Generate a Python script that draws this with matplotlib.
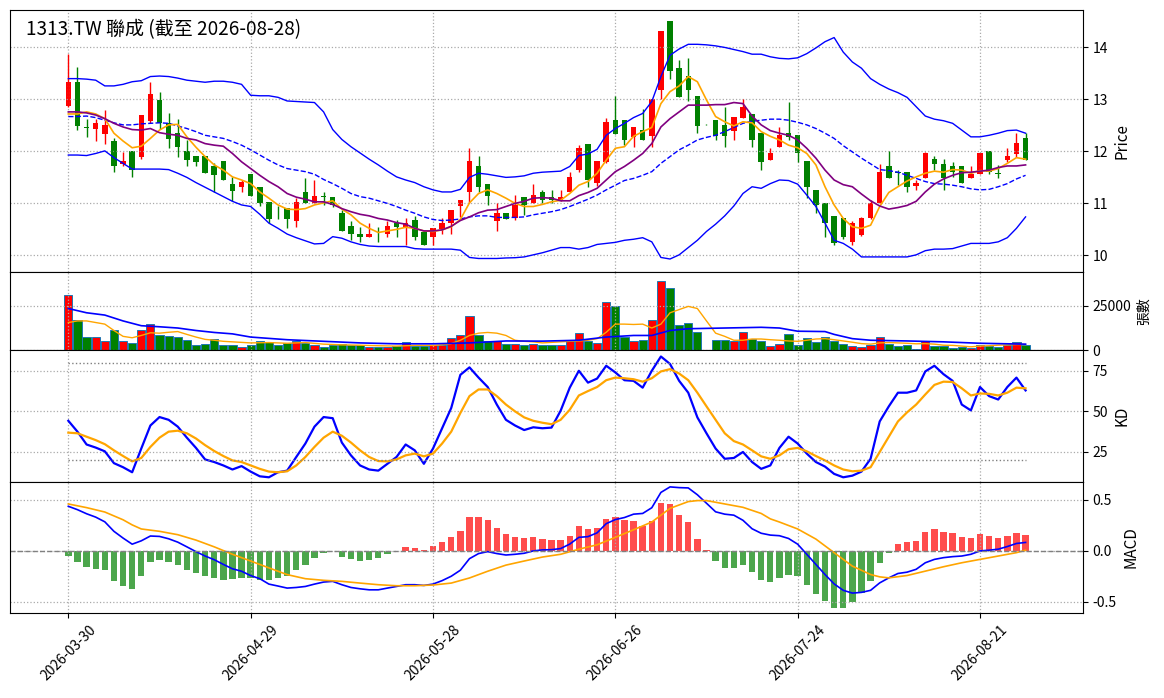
import matplotlib
matplotlib.use('Agg')
import matplotlib.pyplot as plt
import numpy as np
import pandas as pd

plt.rcParams['font.family'] = ['Noto Sans CJK TC', 'DejaVu Sans']
plt.rcParams['axes.unicode_minus'] = False

title = '1313.TW 聯成 (截至 2026-08-28)'
holidays = ['2026-04-03', '2026-04-06', '2026-05-01', '2026-06-19']
dates = pd.bdate_range('2026-03-30', '2026-08-28').drop(pd.to_datetime(holidays))

# OHLC read from the candles
opens = [12.88, 13.34, 12.46, 12.43, 12.33, 12.20, 11.75, 12.01, 11.90, 12.58,
         12.99, 12.54, 12.35, 12.01, 11.92, 11.92, 11.72, 11.81, 11.37, 11.31,
         11.56, 11.32, 11.02, 10.88, 10.92, 10.67, 11.21, 11.01, 11.15, 11.12,
         10.81, 10.56, 10.42, 10.36, 10.45, 10.42, 10.62, 10.55, 10.68, 10.44,
         10.36, 10.51, 10.62, 10.95, 11.21, 11.72, 11.37, 10.67, 10.81, 10.71,
         11.12, 11.01, 11.21, 11.12, 11.06, 11.21, 11.64, 12.15, 11.40, 11.80,
         12.60, 12.60, 12.28, 12.41, 12.29, 13.18, 14.51, 13.60, 13.45, 13.06,
         12.51, 12.60, 12.51, 12.40, 12.65, 12.71, 12.35, 11.83, 12.09, 12.35,
         12.31, 11.81, 11.26, 11.01, 10.76, 10.71, 10.25, 10.40, 10.71, 11.00,
         11.72, 11.60, 11.60, 11.34, 11.49, 11.85, 11.75, 11.72, 11.72, 11.49,
         11.56, 12.01, 11.58, 11.83, 11.95, 12.26]
highs = [13.88, 13.63, 12.63, 12.63, 12.79, 12.25, 11.99, 12.01, 12.70, 13.34,
         13.15, 12.74, 12.63, 12.22, 11.92, 11.92, 11.77, 11.81, 11.50, 11.45,
         11.56, 11.32, 11.02, 10.95, 10.92, 11.11, 11.49, 11.45, 11.21, 11.12,
         10.87, 10.67, 10.55, 10.62, 10.55, 10.67, 10.68, 10.71, 10.76, 10.47,
         10.52, 10.71, 10.87, 11.06, 12.07, 11.91, 11.37, 11.01, 10.81, 11.16,
         11.12, 11.37, 11.26, 11.26, 11.26, 11.60, 12.12, 12.15, 11.81, 12.65,
         13.06, 12.60, 12.46, 12.81, 13.00, 14.31, 14.51, 13.76, 13.80, 13.06,
         12.52, 12.60, 12.85, 12.66, 13.00, 12.71, 12.35, 12.07, 12.46, 12.95,
         12.31, 11.81, 11.26, 11.01, 10.76, 10.71, 10.67, 10.74, 11.06, 11.75,
         12.01, 11.65, 11.60, 11.45, 11.99, 11.91, 11.85, 11.80, 11.72, 11.72,
         11.96, 12.01, 11.74, 12.06, 12.35, 12.35]
lows = [12.86, 12.41, 12.28, 12.20, 12.15, 11.60, 11.71, 11.50, 11.85, 12.54,
        12.44, 12.06, 11.90, 11.71, 11.71, 11.59, 11.21, 11.45, 11.05, 11.21,
        11.15, 10.95, 10.62, 10.69, 10.52, 10.55, 11.00, 11.00, 10.97, 10.94,
        10.46, 10.29, 10.26, 10.36, 10.26, 10.36, 10.36, 10.20, 10.29, 10.20,
        10.20, 10.42, 10.42, 10.74, 11.01, 11.21, 10.97, 10.47, 10.69, 10.68,
        10.78, 11.00, 11.00, 11.00, 11.04, 11.21, 11.61, 11.32, 11.33, 11.77,
        12.33, 12.12, 12.09, 12.21, 12.09, 13.00, 13.40, 13.05, 12.96, 12.35,
        12.50, 12.22, 12.09, 12.22, 12.65, 12.09, 11.65, 11.83, 12.09, 12.22,
        11.80, 11.10, 10.81, 10.36, 10.20, 10.31, 10.20, 10.37, 10.69, 11.00,
        11.49, 11.35, 11.21, 11.26, 11.49, 11.65, 11.26, 11.51, 11.40, 11.49,
        11.56, 11.56, 11.49, 11.80, 11.90, 11.83]
closes = [13.34, 12.49, 12.45, 12.54, 12.51, 11.71, 11.81, 11.65, 12.70, 13.10,
          12.54, 12.24, 12.09, 11.83, 11.80, 11.59, 11.55, 11.45, 11.24, 11.41,
          11.15, 11.00, 10.70, 10.87, 10.70, 11.02, 11.01, 11.15, 11.12, 10.97,
          10.46, 10.41, 10.36, 10.42, 10.44, 10.56, 10.55, 10.62, 10.36, 10.20,
          10.52, 10.62, 10.87, 11.06, 11.81, 11.31, 11.15, 10.81, 10.69, 10.97,
          10.97, 11.16, 11.06, 11.06, 11.12, 11.51, 12.07, 11.45, 11.81, 12.56,
          12.33, 12.21, 12.46, 12.21, 13.00, 14.31, 13.55, 13.05, 13.18, 12.49,
          12.50, 12.29, 12.29, 12.66, 12.86, 12.21, 11.80, 11.96, 12.31, 12.28,
          11.96, 11.31, 10.97, 10.62, 10.23, 10.36, 10.62, 10.71, 11.01, 11.61,
          11.49, 11.58, 11.31, 11.40, 11.96, 11.75, 11.49, 11.60, 11.40, 11.56,
          11.96, 11.60, 11.57, 11.91, 12.17, 11.83]
volume = [31000, 16800, 7500, 7500, 4900, 11300, 4900, 4200, 11300, 14600,
          8600, 8000, 7500, 5800, 2600, 3600, 6400, 3100, 3100, 1800,
          2600, 5300, 4700, 2600, 4200, 4900, 4200, 2600, 1500, 2600,
          3600, 3100, 3100, 1800, 1500, 1500, 2200, 4400, 2000, 2000,
          2700, 3100, 6900, 8600, 19200, 8600, 5300, 5300, 3600, 3600,
          2600, 3300, 2600, 2600, 3100, 4900, 9700, 5100, 4000, 27000,
          25000, 7300, 5100, 5800, 17200, 38700, 35000, 14000, 15100, 10200,
          0, 5800, 5800, 4900, 10200, 6400, 5300, 2000, 3600, 9100,
          3100, 6900, 4400, 7500, 4900, 3600, 2000, 1500, 3100, 7500,
          3600, 2000, 2600, 700, 4900, 2000, 2000, 1100, 1500, 1100,
          2700, 2000, 1500, 2700, 4700, 2900]

# price overlays
bb_upper = [13.40, 13.40, 13.39, 13.37, 13.26, 13.26, 13.29, 13.34, 13.36, 13.44,
            13.45, 13.44, 13.41, 13.37, 13.35, 13.33, 13.35, 13.35, 13.33, 13.29,
            13.08, 13.07, 13.07, 13.04, 12.97, 12.96, 12.95, 12.94, 12.76, 12.42,
            12.23, 12.09, 11.97, 11.85, 11.74, 11.62, 11.51, 11.45, 11.40, 11.32,
            11.26, 11.22, 11.22, 11.27, 11.50, 11.58, 11.56, 11.53, 11.50, 11.51,
            11.53, 11.58, 11.60, 11.61, 11.62, 11.71, 11.92, 11.95, 12.04, 12.31,
            12.44, 12.54, 12.65, 12.73, 12.96, 13.44, 13.85, 13.97, 14.06, 14.06,
            14.05, 14.03, 14.00, 13.96, 13.92, 13.87, 13.87, 13.82, 13.79, 13.78,
            13.80, 13.88, 13.99, 14.11, 14.19, 13.91, 13.72, 13.60, 13.40, 13.29,
            13.20, 13.13, 13.04, 12.86, 12.68, 12.62, 12.59, 12.54, 12.41, 12.28,
            12.28, 12.31, 12.35, 12.40, 12.41, 12.35]
bb_mid = [12.67, 12.67, 12.68, 12.65, 12.60, 12.55, 12.51, 12.51, 12.53, 12.54,
          12.55, 12.54, 12.49, 12.44, 12.38, 12.31, 12.28, 12.25, 12.19, 12.12,
          12.03, 11.93, 11.83, 11.74, 11.67, 11.64, 11.61, 11.56, 11.46, 11.38,
          11.29, 11.19, 11.13, 11.10, 11.05, 11.00, 10.94, 10.87, 10.81, 10.74,
          10.69, 10.67, 10.68, 10.70, 10.74, 10.76, 10.76, 10.73, 10.73, 10.73,
          10.74, 10.78, 10.81, 10.84, 10.88, 10.94, 11.01, 11.08, 11.16, 11.26,
          11.35, 11.44, 11.48, 11.54, 11.61, 11.77, 11.90, 12.03, 12.12, 12.22,
          12.27, 12.31, 12.38, 12.46, 12.54, 12.58, 12.60, 12.62, 12.62, 12.60,
          12.56, 12.51, 12.44, 12.35, 12.25, 12.11, 11.99, 11.87, 11.76, 11.65,
          11.63, 11.60, 11.54, 11.48, 11.42, 11.38, 11.37, 11.35, 11.32, 11.28,
          11.26, 11.27, 11.32, 11.38, 11.47, 11.54]
bb_lower = [11.93, 11.93, 11.92, 11.96, 12.01, 11.88, 11.77, 11.66, 11.66, 11.66,
            11.66, 11.65, 11.58, 11.50, 11.40, 11.31, 11.22, 11.13, 11.04, 10.97,
            10.94, 10.79, 10.62, 10.52, 10.41, 10.34, 10.28, 10.22, 10.23, 10.36,
            10.33, 10.26, 10.21, 10.18, 10.17, 10.17, 10.17, 10.17, 10.13, 10.12,
            10.12, 10.12, 10.12, 10.10, 9.96, 9.94, 9.94, 9.94, 9.95, 9.955,
            9.97, 10.01, 10.05, 10.10, 10.15, 10.15, 10.12, 10.15, 10.21, 10.23,
            10.25, 10.29, 10.31, 10.34, 10.26, 9.96, 9.93, 10.01, 10.15, 10.29,
            10.46, 10.60, 10.76, 10.95, 11.19, 11.32, 11.29, 11.38, 11.45, 11.44,
            11.37, 11.16, 10.94, 10.62, 10.29, 10.23, 10.12, 9.97, 9.97, 9.97,
            9.97, 9.97, 9.97, 10.01, 10.09, 10.12, 10.12, 10.13, 10.18, 10.23,
            10.23, 10.23, 10.26, 10.34, 10.52, 10.74]
ma5 = [12.72, 12.72, 12.76, 12.72, 12.63, 12.35, 12.20, 12.07, 12.10, 12.25,
       12.41, 12.51, 12.52, 12.28, 12.08, 11.90, 11.74, 11.64, 11.51, 11.45,
       11.38, 11.22, 11.10, 10.97, 10.89, 10.88, 10.90, 10.97, 11.01, 11.05,
       10.89, 10.78, 10.62, 10.52, 10.44, 10.47, 10.50, 10.54, 10.52, 10.47,
       10.46, 10.49, 10.55, 10.69, 11.01, 11.19, 11.26, 11.19, 11.10, 11.00,
       10.94, 10.94, 10.98, 11.03, 11.06, 11.19, 11.35, 11.42, 11.58, 11.83,
       12.06, 12.09, 12.29, 12.38, 12.46, 12.92, 13.15, 13.26, 13.44, 13.34,
       12.99, 12.67, 12.57, 12.49, 12.57, 12.55, 12.38, 12.29, 12.22, 12.12,
       12.07, 11.96, 11.74, 11.32, 10.97, 10.71, 10.55, 10.52, 10.58, 10.94,
       11.21, 11.32, 11.43, 11.51, 11.58, 11.62, 11.60, 11.65, 11.64, 11.58,
       11.63, 11.62, 11.67, 11.77, 11.88, 11.85]
ma10 = [12.76, 12.76, 12.74, 12.70, 12.63, 12.54, 12.47, 12.42, 12.41, 12.44,
        12.36, 12.33, 12.31, 12.25, 12.22, 12.15, 12.12, 12.10, 11.96, 11.80,
        11.67, 11.54, 11.42, 11.32, 11.19, 11.12, 11.08, 11.03, 11.03, 10.98,
        10.90, 10.84, 10.79, 10.76, 10.71, 10.68, 10.63, 10.60, 10.52, 10.47,
        10.47, 10.49, 10.56, 10.67, 10.74, 10.82, 10.87, 10.88, 10.94, 11.00,
        11.04, 11.10, 11.11, 11.10, 11.05, 11.05, 11.15, 11.21, 11.29, 11.45,
        11.61, 11.71, 11.83, 11.96, 12.15, 12.47, 12.63, 12.76, 12.89, 12.89,
        12.89, 12.90, 12.90, 12.94, 12.92, 12.68, 12.51, 12.40, 12.35, 12.31,
        12.22, 12.06, 11.87, 11.64, 11.45, 11.36, 11.32, 11.18, 11.05, 10.95,
        10.89, 10.92, 10.96, 11.04, 11.22, 11.37, 11.47, 11.54, 11.59, 11.60,
        11.62, 11.64, 11.69, 11.72, 11.72, 11.74]

# volume averages (read where visible)
vma5_idx = [0, 1, 2, 3, 4, 5, 6, 7, 8, 9, 10, 11, 12, 13, 14, 15, 16, 17, 18, 20,
            22, 24, 26, 28, 30, 32, 34, 36, 38, 40, 41, 42, 43, 44, 45, 46, 47, 48, 49, 50,
            51, 52, 54, 55, 56, 57, 58, 59, 60, 61, 62, 63, 64, 65, 66, 67, 68, 69, 70, 71,
            72, 73, 74, 75, 76, 77, 78, 79, 80, 81, 82, 83, 84, 85, 86, 87, 88, 89, 90, 91,
            92, 93, 94, 95, 96, 97, 98, 99, 100, 101, 102, 103, 104, 105]
vma5_val = [15500, 16400, 16400, 15500, 14600, 11000, 7700, 6900, 8200, 9700,
            9500, 10000, 10400, 8800, 7300, 6000, 5500, 4900, 4600, 4000,
            4200, 3800, 4200, 3300, 2900, 2700, 2400, 2200, 2600, 2600,
            2900, 3600, 5500, 8200, 9500, 9900, 9500, 8200, 5500, 4900,
            4600, 4000, 4600, 4900, 5100, 5500, 6400, 10000, 14600, 14600,
            14400, 14600, 12400, 14600, 21000, 22800, 24600, 23400, 16400, 9500,
            7700, 5500, 5500, 6200, 6200, 5800, 5500, 5100, 4900, 5500,
            6200, 6400, 5800, 5100, 4400, 3600, 3300, 4000, 4200, 4000,
            3800, 3500, 3600, 3300, 2700, 2600, 2200, 1800, 2200, 2400,
            2700, 2900, 3100, 3100]
vma20_idx = [0, 2, 4, 6, 8, 10, 12, 14, 16, 18, 20, 24, 28, 32, 36, 40, 44, 48, 52,
             56, 59, 62, 64, 66, 68, 72, 76, 78, 80, 83, 84, 86, 88, 92, 96, 100, 105]
vma20_val = [23400, 21000, 19700, 16400, 13700, 13100, 12400, 11000, 9900, 9100,
             7300, 5800, 4900, 4000, 3500, 3500, 4000, 5100, 5000,
             5500, 7300, 8200, 8200, 11000, 12000, 12400, 12800, 12400, 10600,
             10400, 8800, 6400, 5500, 5100, 4600, 3800, 3300]

# KD
k_val = [44.2, 37.5, 29.6, 27.7, 25.4, 18.1, 15.6, 12.5, 27.1, 41.3,
         46.5, 44.8, 40.6, 33.8, 27.5, 20.4, 18.8, 16.7, 14.2, 16.3,
         12.9, 10.0, 9.4, 12.5, 13.5, 21.9, 30.2, 40.6, 46.5, 45.8,
         30.8, 22.9, 16.7, 14.2, 13.5, 17.7, 21.9, 29.6, 26.0, 17.7,
         27.1, 39.6, 52.1, 72.5, 77.1, 70.8, 65.0, 54.2, 44.8, 41.3,
         38.5, 40.2, 39.6, 40.0, 50.4, 64.6, 75.0, 67.7, 70.2, 78.1,
         74.0, 69.2, 68.8, 64.6, 75.0, 83.8, 79.2, 68.8, 61.5, 46.3,
         36.5, 27.1, 20.8, 21.3, 25.0, 18.8, 14.6, 16.7, 27.5, 34.4,
         30.2, 24.0, 18.8, 16.0, 11.5, 9.4, 10.4, 12.9, 20.8, 43.8,
         53.1, 61.5, 61.5, 62.9, 74.6, 78.1, 72.9, 68.8, 54.2, 50.6,
         65.0, 59.4, 57.3, 65.0, 70.8, 62.9]
d_val = [36.9, 36.5, 34.4, 32.3, 29.8, 26.0, 22.5, 19.2, 21.3, 28.1,
         33.8, 37.5, 38.1, 36.5, 33.3, 29.2, 25.6, 22.5, 19.8, 18.8,
         16.7, 14.6, 12.9, 12.5, 13.1, 16.7, 21.9, 28.1, 33.8, 37.5,
         35.0, 30.8, 26.0, 21.9, 19.4, 19.2, 20.4, 22.9, 24.0, 22.3,
         24.0, 30.2, 37.5, 49.0, 59.4, 63.5, 63.5, 59.4, 54.2, 50.0,
         46.3, 44.2, 43.0, 42.1, 44.8, 51.0, 59.8, 62.5, 65.0, 69.2,
         70.8, 70.4, 69.8, 68.3, 70.4, 74.6, 76.0, 73.3, 69.2, 61.5,
         53.1, 44.8, 36.5, 31.7, 29.6, 26.0, 22.3, 20.8, 22.9, 26.7,
         27.5, 25.4, 22.5, 19.8, 16.7, 14.2, 13.1, 13.5, 15.6, 25.0,
         34.4, 43.8, 49.4, 54.2, 60.4, 66.3, 68.3, 68.1, 64.2, 59.8,
         61.0, 60.8, 59.8, 61.5, 64.6, 64.2]

# MACD
dif = [0.437, 0.404, 0.364, 0.331, 0.285, 0.192, 0.126, 0.066, 0.099, 0.146,
       0.142, 0.119, 0.086, 0.040, -0.007, -0.050, -0.086, -0.132, -0.175, -0.199,
       -0.242, -0.272, -0.325, -0.344, -0.364, -0.358, -0.348, -0.325, -0.305, -0.298,
       -0.331, -0.358, -0.371, -0.381, -0.381, -0.364, -0.348, -0.331, -0.331, -0.338,
       -0.325, -0.291, -0.248, -0.189, -0.076, -0.026, -0.007, -0.026, -0.040, -0.033,
       -0.023, 0.000, 0.010, 0.012, 0.023, 0.067, 0.133, 0.140, 0.177, 0.267,
       0.307, 0.327, 0.360, 0.367, 0.423, 0.573, 0.627, 0.620, 0.617, 0.550,
       0.467, 0.383, 0.360, 0.350, 0.300, 0.217, 0.173, 0.155, 0.149, 0.122,
       0.066, -0.033, -0.132, -0.231, -0.323, -0.386, -0.413, -0.406, -0.386, -0.313,
       -0.264, -0.221, -0.208, -0.180, -0.116, -0.083, -0.066, -0.056, -0.050, -0.033,
       0.000, 0.007, 0.017, 0.043, 0.073, 0.083]
sig_idx = [0, 2, 4, 6, 7, 8, 10, 12, 14, 16, 18, 20, 22, 24, 26, 28, 30, 32, 34, 36,
           38, 40, 42, 44, 46, 48, 50, 52, 54, 56, 58, 60, 62, 64, 66, 68, 69, 70, 72, 74,
           76, 77, 78, 80, 82, 84, 86, 88, 89, 90, 92, 94, 96, 98, 100, 102, 104, 105]
sig_val = [0.460, 0.424, 0.381, 0.305, 0.255, 0.215, 0.192, 0.159, 0.106, 0.040,
           -0.033, -0.099, -0.166, -0.232, -0.272, -0.288, -0.298, -0.315, -0.331, -0.341,
           -0.341, -0.334, -0.315, -0.265, -0.199, -0.139, -0.099, -0.060, -0.033, 0.017,
           0.060, 0.133, 0.207, 0.283, 0.417, 0.483, 0.493, 0.493, 0.460, 0.427,
           0.367, 0.314, 0.283, 0.215, 0.116, -0.017, -0.149, -0.231, -0.254, -0.264,
           -0.241, -0.198, -0.155, -0.116, -0.083, -0.050, -0.017, 0.007]
hist = [-0.046, -0.106, -0.156, -0.175, -0.185, -0.295, -0.344, -0.374, -0.245, -0.106,
        -0.086, -0.106, -0.136, -0.185, -0.215, -0.245, -0.265, -0.281, -0.275, -0.265,
        -0.265, -0.288, -0.280, -0.265, -0.245, -0.185, -0.136, -0.066, -0.017, -0.005,
        -0.056, -0.076, -0.096, -0.086, -0.066, -0.026, 0.0, 0.040, 0.030, 0.010,
        0.050, 0.083, 0.139, 0.199, 0.328, 0.328, 0.298, 0.228, 0.162, 0.139,
        0.129, 0.139, 0.119, 0.11, 0.11, 0.15, 0.24, 0.21, 0.22, 0.31,
        0.33, 0.30, 0.29, 0.24, 0.29, 0.47, 0.46, 0.35, 0.28, 0.12,
        0.01, -0.10, -0.167, -0.167, -0.14, -0.21, -0.287, -0.307, -0.27, -0.24,
        -0.25, -0.33, -0.42, -0.49, -0.56, -0.56, -0.50, -0.41, -0.29, -0.12,
        -0.017, 0.063, 0.083, 0.10, 0.19, 0.21, 0.19, 0.18, 0.14, 0.13,
        0.17, 0.15, 0.13, 0.15, 0.18, 0.16]

x = np.arange(len(dates))
o = np.array(opens); h = np.array(highs); l = np.array(lows); c = np.array(closes)
up = c >= o
candle_colors = np.where(up, 'red', 'green')

fig = plt.figure(figsize=(11.64, 6.98), dpi=100)
L, W = 10 / 1164, 1073 / 1164
ax1 = fig.add_axes([L, 1 - 272 / 698, W, 262 / 698])
ax2 = fig.add_axes([L, 1 - 350 / 698, W, 78 / 698], sharex=ax1)
ax3 = fig.add_axes([L, 1 - 482 / 698, W, 132 / 698], sharex=ax1)
ax4 = fig.add_axes([L, 1 - 613 / 698, W, 131 / 698], sharex=ax1)

# price panel
ax1.vlines(x, l, h, colors=candle_colors, linewidth=1)
ax1.bar(x, np.maximum(np.abs(c - o), 0.012), bottom=np.minimum(o, c), width=0.6,
        color=candle_colors, linewidth=0)
ax1.plot(x, bb_upper, color='blue', lw=1)
ax1.plot(x, bb_mid, color='blue', lw=1, ls='--')
ax1.plot(x, bb_lower, color='blue', lw=1)
ax1.plot(x, ma5, color='orange', lw=1.2)
ax1.plot(x, ma10, color='purple', lw=1.2)
ax1.set_ylim(9.68, 14.72)
ax1.set_yticks([10, 11, 12, 13, 14])
ax1.set_ylabel('Price', fontsize=11)
ax1.text(0.015, 0.925, title, transform=ax1.transAxes, fontsize=13.7, va='center', ha='left')

# volume panel
ax2.bar(x, volume, width=0.9, color=candle_colors, edgecolor='tab:blue', linewidth=0.7)
ax2.plot(vma5_idx, vma5_val, color='orange', lw=1)
ax2.plot(vma20_idx, vma20_val, color='blue', lw=1.2)
ax2.set_ylim(0, 44000)
ax2.set_yticks([0, 25000])
ax2.set_ylabel('張數', fontsize=10)

# KD panel
ax3.plot(x, k_val, color='blue', lw=1.6)
ax3.plot(x, d_val, color='orange', lw=1.6)
ax3.plot(x, [80] * len(x), color='gray', ls=':', lw=1)
ax3.plot(x, [20] * len(x), color='gray', ls=':', lw=1)
ax3.set_ylim(6.5, 87.8)
ax3.set_yticks([25, 50, 75])
ax3.set_ylabel('KD', fontsize=11)

# MACD panel
hist_arr = np.array(hist)
ax4.bar(x, hist_arr, width=0.7, color=np.where(hist_arr >= 0, 'red', 'green'), alpha=0.7)
ax4.plot(x, dif, color='blue', lw=1.2)
ax4.plot(sig_idx, sig_val, color='orange', lw=1.2)
ax4.axhline(0, color='gray', ls='--', lw=1)
ax4.set_ylim(-0.608, 0.675)
ax4.set_yticks([-0.5, 0.0, 0.5])
ax4.set_ylabel('MACD', fontsize=11)

tick_pos = list(range(0, len(x), 20))
for ax in (ax1, ax2, ax3, ax4):
    ax.yaxis.tick_right()
    ax.yaxis.set_label_position('right')
    ax.grid(True, linestyle=':', color='#aaaaaa', linewidth=0.9)
    ax.tick_params(labelsize=10)
ax4.set_xticks(tick_pos)
ax4.set_xticklabels([dates[i].strftime('%Y-%m-%d') for i in tick_pos], rotation=45)
ax4.set_xlim(-6.4, 111.3)
for ax in (ax1, ax2, ax3):
    plt.setp(ax.get_xticklabels(), visible=False)

fig.savefig('out.png', dpi=100)
